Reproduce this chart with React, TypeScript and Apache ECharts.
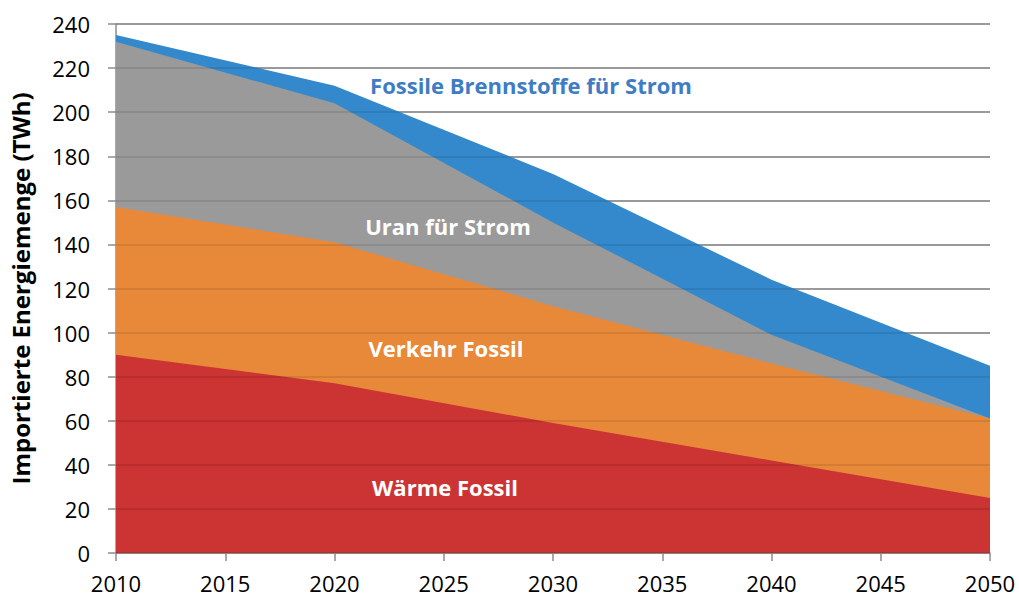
import React, { useEffect, useRef } from "react";
import * as echarts from "echarts";

const years = [2010, 2020, 2030, 2040, 2050];
const waerme = [90, 77, 59, 42, 25];
const verkehr = [67, 64, 53, 44, 36];
const uran = [75, 63, 38, 13, 0];
const fossilStrom = [3, 8, 22, 25, 24];
const yTicks = { min: 0, max: 240, interval: 20 };
const xTicks = { min: 2010, max: 2050, interval: 5 };

const seriesNames = ["Wärme Fossil", "Verkehr Fossil", "Uran für Strom", "Fossile Brennstoffe für Strom"];
const seriesValues = [waerme, verkehr, uran, fossilStrom];
const seriesColors = ["#CC3333", "#E8893A", "#9A9A9A", "#3389CC"];

const FONT = "'Open Sans', 'DejaVu Sans', sans-serif";

// cumulative (stacked) totals from the series arrays
const cumulative = seriesValues.map((_, i) =>
  years.map((_, j) => seriesValues.slice(0, i + 1).reduce((s, arr) => s + arr[j], 0))
);

export default function App() {
  const ref = useRef<HTMLDivElement>(null);
  useEffect(() => {
    if (!ref.current) return;
    const chart = echarts.init(ref.current, undefined, { renderer: "svg" });
    const order = [3, 2, 1, 0];
    chart.setOption({
      animation: false,
      backgroundColor: "#ffffff",
      grid: { left: 116, right: 29, top: 24, bottom: 48, containLabel: false },
      xAxis: {
        type: "value",
        min: xTicks.min,
        max: xTicks.max,
        interval: xTicks.interval,
        axisLine: { show: true, lineStyle: { color: "#8c8c8c", width: 1.5 } },
        axisTick: { show: true, length: 8, lineStyle: { color: "#8c8c8c", width: 1.5 } },
        splitLine: { show: false },
        axisLabel: {
          formatter: (v: number) => String(v),
          color: "#000",
          fontFamily: FONT,
          fontSize: 22,
          margin: 19,
        },
      },
      yAxis: [
        {
          type: "value",
          min: yTicks.min,
          max: yTicks.max,
          interval: yTicks.interval,
          name: "Importierte Energiemenge (TWh)",
          nameLocation: "middle",
          nameGap: 84,
          nameTextStyle: { color: "#000", fontFamily: FONT, fontWeight: "bold", fontSize: 24 },
          axisLine: { show: true, lineStyle: { color: "#8c8c8c", width: 1.5 } },
          axisTick: { show: true, length: 8, lineStyle: { color: "#8c8c8c", width: 1.5 } },
          splitLine: { show: true, lineStyle: { color: "#8c8c8c", width: 1.5 } },
          axisLabel: { color: "#000", fontFamily: FONT, fontSize: 22, margin: 26 },
        },
        {
          type: "value",
          min: yTicks.min,
          max: yTicks.max,
          interval: yTicks.interval,
          position: "left",
          z: 10,
          axisLine: { show: false },
          axisTick: { show: false },
          axisLabel: { show: false },
          splitLine: { show: true, lineStyle: { color: "rgba(0,0,0,0.13)", width: 1.5 } },
        },
      ],
      series: order.map((i, k) => ({
        name: seriesNames[i],
        type: "line",
        z: 2 + k,
        symbol: "none",
        lineStyle: { width: 0 },
        areaStyle: { color: seriesColors[i], opacity: 1 },
        data: years.map((y, j) => [y, cumulative[i][j]]),
      })),
      graphic: [
        { type: "text", x: 531, y: 85, z: 20, style: { text: "Fossile Brennstoffe für Strom", fill: "#3E7CC4", font: `bold 22px ${FONT}`, textAlign: "center", textVerticalAlign: "middle" } },
        { type: "text", x: 448, y: 226, z: 20, style: { text: "Uran für Strom", fill: "#ffffff", font: `bold 22px ${FONT}`, textAlign: "center", textVerticalAlign: "middle" } },
        { type: "text", x: 446, y: 348, z: 20, style: { text: "Verkehr Fossil", fill: "#ffffff", font: `bold 22px ${FONT}`, textAlign: "center", textVerticalAlign: "middle" } },
        { type: "text", x: 445, y: 487, z: 20, style: { text: "Wärme Fossil", fill: "#ffffff", font: `bold 22px ${FONT}`, textAlign: "center", textVerticalAlign: "middle" } },
      ],
    });
    return () => chart.dispose();
  }, []);
  return <div ref={ref} style={{ position: "fixed", left: 0, top: 0, width: 1019, height: 601 }} />;
}
